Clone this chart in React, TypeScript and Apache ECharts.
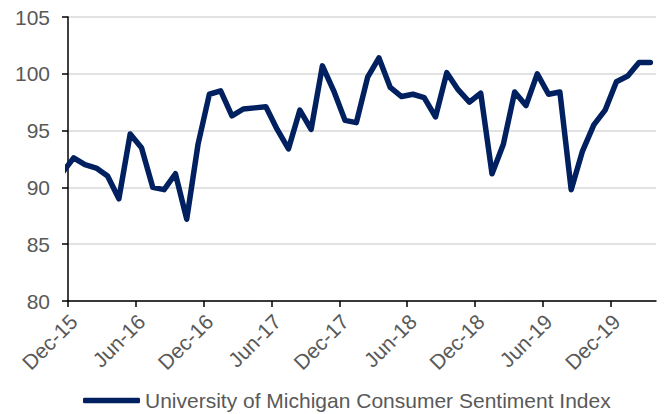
import React, { useEffect, useRef } from "react";
import * as echarts from "echarts";

const months: string[] = [
  "Nov-15", "Dec-15", "Jan-16", "Feb-16", "Mar-16", "Apr-16", "May-16", "Jun-16", "Jul-16", "Aug-16", "Sep-16", "Oct-16", "Nov-16",
  "Dec-16", "Jan-17", "Feb-17", "Mar-17", "Apr-17", "May-17", "Jun-17", "Jul-17", "Aug-17", "Sep-17", "Oct-17", "Nov-17",
  "Dec-17", "Jan-18", "Feb-18", "Mar-18", "Apr-18", "May-18", "Jun-18", "Jul-18", "Aug-18", "Sep-18", "Oct-18", "Nov-18",
  "Dec-18", "Jan-19", "Feb-19", "Mar-19", "Apr-19", "May-19", "Jun-19", "Jul-19", "Aug-19", "Sep-19", "Oct-19", "Nov-19",
  "Dec-19", "Jan-20", "Feb-20", "Mar-20",
];

const sentiment: number[] = [
  91.3, 92.6, 92.0, 91.7, 91.0, 89.0, 94.7, 93.5, 90.0, 89.8, 91.2, 87.2, 93.8,
  98.2, 98.5, 96.3, 96.9, 97.0, 97.1, 95.1, 93.4, 96.8, 95.1, 100.7, 98.5,
  95.9, 95.7, 99.7, 101.4, 98.8, 98.0, 98.2, 97.9, 96.2, 100.1, 98.6, 97.5,
  98.3, 91.2, 93.8, 98.4, 97.2, 100.0, 98.2, 98.4, 89.8, 93.2, 95.5, 96.8,
  99.3, 99.8, 101.0, 101.0,
];

const tickLabels: string[] = ["Dec-15", "Jun-16", "Dec-16", "Jun-17", "Dec-17", "Jun-18", "Dec-18", "Jun-19", "Dec-19"];

const seriesName = "University of Michigan Consumer Sentiment Index";

const FONT = "'Liberation Sans', Arial, sans-serif";

export default function App() {
  const ref = useRef<HTMLDivElement>(null);

  useEffect(() => {
    if (!ref.current) return;
    const chart = echarts.init(ref.current, null, { renderer: "svg" });
    // x position: month index measured from the Dec-15 tick, points centred in their month
    const firstIdx = months.indexOf("Dec-15");
    const data = sentiment.map((v, i) => [i - firstIdx + 0.5, v]);
    const tickVals = tickLabels.map((_, i) => i * 6);
    const labelVals = tickLabels.map((_, i) => i * 6 + 0.5);
    const xMax = months.length - firstIdx;

    chart.setOption({
      animation: false,
      grid: { left: 68, right: 16, top: 17, bottom: 113, containLabel: false },
      legend: {
        left: 83,
        top: 390,
        padding: 0,
        icon: "roundRect",
        itemWidth: 57,
        itemHeight: 5.5,
        textStyle: { color: "#595959", fontSize: 21, fontFamily: FONT },
        data: [seriesName],
      },
      xAxis: {
        type: "value",
        min: 0,
        max: xMax,
        splitLine: { show: false },
        axisLine: { show: true, lineStyle: { color: "#000", width: 1.5 } },
        axisTick: { show: true, length: 6, customValues: tickVals, lineStyle: { color: "#000", width: 1.5 } },
        axisLabel: {
          customValues: labelVals,
          rotate: 45,
          margin: 17,
          color: "#595959",
          fontSize: 21,
          fontFamily: FONT,
          formatter: (val: number) => tickLabels[Math.round((val - 0.5) / 6)] ?? "",
        },
      },
      yAxis: {
        type: "value",
        min: 80,
        max: 105,
        interval: 5,
        axisLine: { show: true, lineStyle: { color: "#000", width: 1.5 } },
        axisTick: { show: true, length: 6, lineStyle: { color: "#000", width: 1.5 } },
        splitLine: { show: true, lineStyle: { color: "#d9d9d9", width: 1.5 } },
        axisLabel: { margin: 18, color: "#595959", fontSize: 21, fontFamily: FONT },
      },
      series: [
        {
          name: seriesName,
          type: "line",
          data,
          symbol: "none",
          showSymbol: false,
          clip: true,
          lineStyle: { color: "#002060", width: 5.5, cap: "round", join: "round" },
          itemStyle: { color: "#002060" },
          z: 1,
        },
      ],
    });
    return () => chart.dispose();
  }, []);

  return (
    <div
      ref={ref}
      style={{ position: "fixed", left: 0, top: 0, width: 672, height: 414, background: "#fff" }}
    />
  );
}
